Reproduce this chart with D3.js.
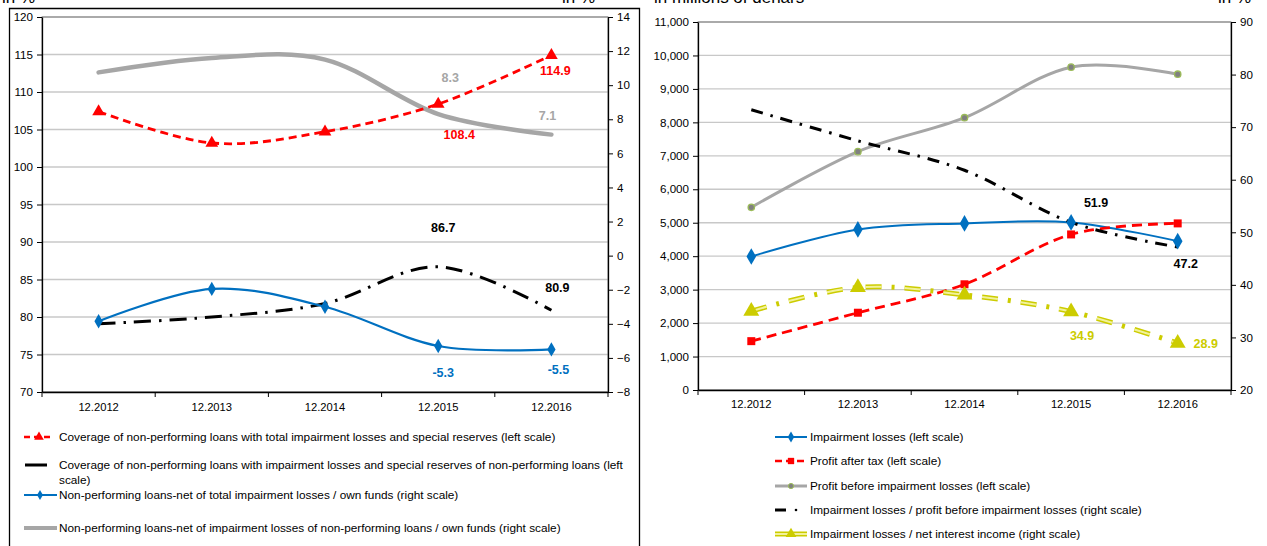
<!DOCTYPE html>
<html><head><meta charset="utf-8">
<script src="https://cdn.jsdelivr.net/npm/d3@7"></script>
<style>body{margin:0;background:#fff}svg{display:block}text{font-family:"Liberation Sans",Arial,sans-serif}</style>
</head><body><svg id="c" width="1267" height="546"></svg>
<script>
const categories = ["12.2012","12.2013","12.2014","12.2015","12.2016"];
// Left chart
const coverageTotal = [107.4, 103.2, 104.7, 108.4, 114.9];
const coverageNPL   = [79.1, 80.0, 81.8, 86.7, 80.9];
const nplNetTotal   = [-3.85, -1.95, -3.0, -5.3, -5.5];
const nplNetNPL     = [10.75, 11.6, 11.5, 8.3, 7.1];
const leftTicksL = [70,75,80,85,90,95,100,105,110,115,120];
const leftTicksR = [-8,-6,-4,-2,0,2,4,6,8,10,12,14];
// Right chart
const impairment     = [3990, 4800, 4980, 5010, 4450];
const profitAfterTax = [1460, 2310, 3160, 4650, 4980];
const profitBefore   = [5460, 7125, 8140, 9650, 9440];
const impRatioProfit = [73.3, 67.4, 61.8, 51.9, 47.2];
const impRatioNII    = [35.0, 39.5, 38.1, 34.9, 28.9];
const rightTicksL = [0,1000,2000,3000,4000,5000,6000,7000,8000,9000,10000,11000];
const rightTicksR = [20,30,40,50,60,70,80,90];

const legendLeft = [
 "Coverage of non-performing loans with total impairment losses and special reserves (left scale)",
 ["Coverage of non-performing loans with impairment losses and special reserves of non-performing loans (left","scale)"],
 "Non-performing loans-net of total impairment losses / own funds (right scale)",
 "Non-performing loans-net of impairment losses of non-performing loans / own funds (right scale)"];
const legendRight = ["Impairment losses (left scale)","Profit after tax (left scale)","Profit before impairment losses (left scale)","Impairment losses / profit before impairment losses (right scale)","Impairment losses / net interest income (right scale)"];

const svg = d3.select("#c");
svg.append("rect").attr("width",1267).attr("height",546).attr("fill","#fff");

// headers (clipped at top, as in the original)
svg.append("text").attr("x",2).attr("y",3).attr("font-size",17).text("in %");
svg.append("text").attr("x",562).attr("y",3).attr("font-size",17).text("in %");
svg.append("text").attr("x",654).attr("y",3).attr("font-size",17).text("in millions of denars");
svg.append("text").attr("x",1218).attr("y",3).attr("font-size",17).text("in %");

// frame of left panel
svg.append("path").attr("d","M9.5,546 V8.5 H639.5 V546").attr("fill","none").attr("stroke","#000").attr("stroke-width",1.3);

const smooth = d3.curveCardinal.tension(0);
const sym = (type, size) => d3.symbol().type(type).size(size)();

function panel(o){
  const g = svg.append("g");
  const x = d3.scaleBand().domain(categories).range([o.x0,o.x1]);
  const yl = d3.scaleLinear().domain(o.dl).range([o.yb,o.yt]);
  const yr = d3.scaleLinear().domain(o.dr).range([o.yb,o.yt]);
  g.selectAll(".grid").data(o.tl).join("line")
    .attr("x1",o.x0).attr("x2",o.x1).attr("y1",d=>yl(d)).attr("y2",d=>yl(d))
    .attr("stroke","#c8c8c8").attr("stroke-width",1.3);
  g.append("rect").attr("x",o.x0).attr("y",o.yt).attr("width",o.x1-o.x0).attr("height",o.yb-o.yt)
    .attr("fill","none").attr("stroke","#7f7f7f").attr("stroke-width",1);
  const axL = g.append("g").attr("transform",`translate(${o.x0},0)`)
    .call(d3.axisLeft(yl).tickValues(o.tl).tickSize(5).tickSizeOuter(0).tickFormat(o.fmtL));
  const axR = g.append("g").attr("transform",`translate(${o.x1},0)`)
    .call(d3.axisRight(yr).tickValues(o.tr).tickSize(5).tickSizeOuter(0).tickFormat(d3.format("d")));
  const axB = g.append("g").attr("transform",`translate(0,${o.yb})`)
    .call(d3.axisBottom(x).tickSize(0).tickPadding(o.xpad));
  [axL,axR,axB].forEach(a=>{
    a.selectAll("text").attr("font-size",11.6).attr("fill","#000").style("font-family","Liberation Sans, Arial, sans-serif");
    a.select(".domain").attr("stroke","#000").attr("stroke-width",1.3);
    a.selectAll(".tick line").attr("stroke","#000");
  });
  axB.selectAll("text").attr("font-size",11.2);
  axL.selectAll("text").attr("x",-9);
  axR.selectAll("text").attr("x",9);
  const bounds = categories.map(c=>x(c)).concat([o.x1]);
  g.selectAll(".xt").data(bounds).join("line")
    .attr("x1",d=>d).attr("x2",d=>d).attr("y1",o.yb).attr("y2",o.yb+5).attr("stroke","#000");
  return {g,x,yl,yr};
}

// ---------- LEFT ----------
const L = panel({x0:42,x1:608,yt:17,yb:392,dl:[70,120],dr:[-8,14],tl:leftTicksL,tr:leftTicksR,fmtL:d3.format("d"),xpad:11});
const cx = c => L.x(c)+L.x.bandwidth()/2;
function line(p, vals, y, style){
  const gen = d3.line().x((d,i)=>p.x(categories[i])+p.x.bandwidth()/2).y(d=>y(d)).curve(smooth);
  const path = p.g.append("path").attr("d",gen(vals)).attr("fill","none");
  Object.entries(style).forEach(([k,v])=>path.attr(k,v));
  return path;
}
line(L, nplNetNPL, L.yr, {stroke:"#a6a6a6","stroke-width":4.5,"stroke-linecap":"round"});
line(L, coverageNPL, L.yl, {stroke:"#000","stroke-width":3,"stroke-dasharray":"17,8,2.5,8"});
line(L, nplNetTotal, L.yr, {stroke:"#0070c0","stroke-width":2.2});
line(L, coverageTotal, L.yl, {stroke:"#ff0000","stroke-width":2.8,"stroke-dasharray":"8,5"});
L.g.selectAll(".tri").data(coverageTotal).join("path")
  .attr("d",sym(d3.symbolTriangle,70)).attr("fill","#ff0000")
  .attr("transform",(d,i)=>`translate(${cx(categories[i])},${L.yl(d)})`);
L.g.selectAll(".dia").data(nplNetTotal).join("path")
  .attr("d",sym(d3.symbolDiamond,60)).attr("fill","#0070c0")
  .attr("transform",(d,i)=>`translate(${cx(categories[i])},${L.yr(d)})`);

function lbl(g,x,y,t,col){ g.append("text").attr("x",x).attr("y",y).attr("text-anchor","middle")
  .attr("font-size",12.5).attr("font-weight","bold").attr("fill",col).text(t); }
lbl(L.g, cx(categories[3])+12, L.yr(nplNetNPL[3])-32, nplNetNPL[3].toFixed(1), "#a6a6a6");
lbl(L.g, cx(categories[4])-4, L.yr(nplNetNPL[4])-15, nplNetNPL[4].toFixed(1), "#a6a6a6");
lbl(L.g, cx(categories[3])+21, L.yl(coverageTotal[3])+35, coverageTotal[3].toFixed(1), "#ff0000");
lbl(L.g, cx(categories[4])+4, L.yl(coverageTotal[4])+20, coverageTotal[4].toFixed(1), "#ff0000");
lbl(L.g, cx(categories[3])+5, L.yl(coverageNPL[3])-35, coverageNPL[3].toFixed(1), "#000");
lbl(L.g, cx(categories[4])+6, L.yl(coverageNPL[4])-18, coverageNPL[4].toFixed(1), "#000");
lbl(L.g, cx(categories[3])+5, L.yr(nplNetTotal[3])+31, nplNetTotal[3].toFixed(1), "#0070c0");
lbl(L.g, cx(categories[4])+7, L.yr(nplNetTotal[4])+25, nplNetTotal[4].toFixed(1), "#0070c0");

// left legend
const lg = svg.append("g");
const ly = [437, 465, 495, 528];
lg.append("line").attr("x1",24).attr("x2",54).attr("y1",ly[0]).attr("y2",ly[0]).attr("stroke","#ff0000").attr("stroke-width",2.5).attr("stroke-dasharray","6,4");
lg.append("path").attr("d",sym(d3.symbolTriangle,40)).attr("fill","#ff0000").attr("transform",`translate(39,${ly[0]})`);
lg.append("line").attr("x1",25).attr("x2",47).attr("y1",ly[1]).attr("y2",ly[1]).attr("stroke","#000").attr("stroke-width",3);
lg.append("line").attr("x1",24).attr("x2",57).attr("y1",ly[2]).attr("y2",ly[2]).attr("stroke","#0070c0").attr("stroke-width",2);
lg.append("path").attr("d",sym(d3.symbolDiamond,30)).attr("fill","#0070c0").attr("transform",`translate(40,${ly[2]})`);
lg.append("line").attr("x1",24).attr("x2",57).attr("y1",ly[3]).attr("y2",ly[3]).attr("stroke","#a6a6a6").attr("stroke-width",4);
legendLeft.forEach((t,i)=>{
  const lines = Array.isArray(t)?t:[t];
  lines.forEach((s,j)=>lg.append("text").attr("x",59).attr("y",ly[i]+4+j*15).attr("font-size",11.8).text(s));
});

// ---------- RIGHT ----------
const R = panel({x0:698,x1:1231,yt:22,yb:390,dl:[0,11000],dr:[20,90],tl:rightTicksL,tr:rightTicksR,fmtL:d3.format(","),xpad:10});
const rx = c => R.x(c)+R.x.bandwidth()/2;
line(R, profitBefore, R.yl, {stroke:"#a6a6a6","stroke-width":3});
line(R, impairment, R.yl, {stroke:"#0070c0","stroke-width":2});
line(R, profitAfterTax, R.yl, {stroke:"#ff0000","stroke-width":2.8,"stroke-dasharray":"10,6"});
line(R, impRatioProfit, R.yr, {stroke:"#000","stroke-width":3,"stroke-dasharray":"12,8,2.5,8"});
line(R, impRatioNII, R.yr, {stroke:"#cccc00","stroke-width":5,"stroke-dasharray":"16,10,3,10"});
line(R, impRatioNII, R.yr, {stroke:"#f2f29a","stroke-width":2,"stroke-dasharray":"16,23"});
R.g.selectAll(".c").data(profitBefore).join("circle")
  .attr("cx",(d,i)=>rx(categories[i])).attr("cy",d=>R.yl(d)).attr("r",3.2)
  .attr("fill","#808080").attr("stroke","#9bbb59").attr("stroke-width",1.3);
R.g.selectAll(".d").data(impairment).join("path")
  .attr("d",sym(d3.symbolDiamond,80)).attr("fill","#0070c0")
  .attr("transform",(d,i)=>`translate(${rx(categories[i])},${R.yl(d)})`);
R.g.selectAll(".s").data(profitAfterTax).join("path")
  .attr("d",sym(d3.symbolSquare,64)).attr("fill","#ff0000")
  .attr("transform",(d,i)=>`translate(${rx(categories[i])},${R.yl(d)})`);
R.g.selectAll(".t").data(impRatioNII).join("path")
  .attr("d",sym(d3.symbolTriangle,110)).attr("fill","#cccc00")
  .attr("transform",(d,i)=>`translate(${rx(categories[i])},${R.yr(d)})`);
lbl(R.g, rx(categories[3])+25, R.yr(impRatioProfit[3])-15, impRatioProfit[3].toFixed(1), "#000");
lbl(R.g, rx(categories[4])+8, R.yr(impRatioProfit[4])+21, impRatioProfit[4].toFixed(1), "#000");
lbl(R.g, rx(categories[3])+11, R.yr(impRatioNII[3])+28, impRatioNII[3].toFixed(1), "#cccc00");
lbl(R.g, rx(categories[4])+28, R.yr(impRatioNII[4])+5, impRatioNII[4].toFixed(1), "#cccc00");

// right legend
const rg = svg.append("g");
const ry = [437, 461, 486, 510, 534];
rg.append("line").attr("x1",775).attr("x2",807).attr("y1",ry[0]).attr("y2",ry[0]).attr("stroke","#0070c0").attr("stroke-width",2);
rg.append("path").attr("d",sym(d3.symbolDiamond,36)).attr("fill","#0070c0").attr("transform",`translate(791,${ry[0]})`);
rg.append("line").attr("x1",775).attr("x2",807).attr("y1",ry[1]).attr("y2",ry[1]).attr("stroke","#ff0000").attr("stroke-width",2.5).attr("stroke-dasharray","7,4");
rg.append("path").attr("d",sym(d3.symbolSquare,40)).attr("fill","#ff0000").attr("transform",`translate(791,${ry[1]})`);
rg.append("line").attr("x1",775).attr("x2",807).attr("y1",ry[2]).attr("y2",ry[2]).attr("stroke","#a6a6a6").attr("stroke-width",3);
rg.append("circle").attr("cx",791).attr("cy",ry[2]).attr("r",2.6).attr("fill","#808080").attr("stroke","#9bbb59");
rg.append("line").attr("x1",775).attr("x2",786).attr("y1",ry[3]).attr("y2",ry[3]).attr("stroke","#000").attr("stroke-width",3);
rg.append("circle").attr("cx",796).attr("cy",ry[3]).attr("r",1.3).attr("fill","#000");
rg.append("line").attr("x1",775).attr("x2",807).attr("y1",ry[4]).attr("y2",ry[4]).attr("stroke","#cccc00").attr("stroke-width",5);
rg.append("line").attr("x1",775).attr("x2",807).attr("y1",ry[4]).attr("y2",ry[4]).attr("stroke","#f2f29a").attr("stroke-width",2);
rg.append("path").attr("d",sym(d3.symbolTriangle,50)).attr("fill","#cccc00").attr("transform",`translate(791,${ry[4]})`);
legendRight.forEach((t,i)=>rg.append("text").attr("x",810).attr("y",ry[i]+4).attr("font-size",11.8).text(t));
</script></body></html>
